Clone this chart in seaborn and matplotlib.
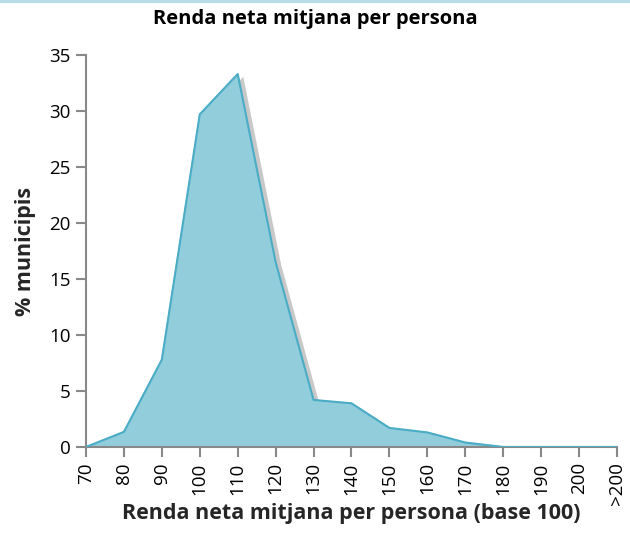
import matplotlib
matplotlib.use("Agg")
import matplotlib.pyplot as plt
import matplotlib.patheffects as pe
import seaborn as sns
import pandas as pd
import numpy as np

categories = ["70", "80", "90", "100", "110", "120", "130", "140", "150", "160", "170", "180", "190", "200", ">200"]
values = [0, 1.35, 7.8, 29.7, 33.3, 16.5, 4.2, 3.9, 1.7, 1.3, 0.4, 0, 0, 0, 0]

sns.set_theme(style="white")
plt.rcParams['font.family'] = ['Open Sans', 'DejaVu Sans']

df = pd.DataFrame({"pos": np.arange(len(categories)), "val": values})

fig = plt.figure(figsize=(6.3, 5.44), dpi=100)
ax = fig.add_axes([86/630, 1 - 447/544, (617-86)/630, (447-55)/544])

ax.fill_between(df["pos"], df["val"], 0, color="#92CDDC", zorder=2,
                path_effects=[pe.SimplePatchShadow(offset=(4, -2), shadow_rgbFace="#777777", alpha=0.4), pe.Normal()])
sns.lineplot(data=df, x="pos", y="val", ax=ax, color="#4BACC6", linewidth=1.5, zorder=3)

ax.set_xlim(0, len(categories) - 1)
ax.set_ylim(0, 35)
ax.set_xticks(df["pos"])
ax.set_xticklabels(categories, rotation=90, fontsize=13.5)
ax.set_yticks([0, 5, 10, 15, 20, 25, 30, 35])
ax.set_yticklabels([str(v) for v in [0, 5, 10, 15, 20, 25, 30, 35]], fontsize=13.5)

for s in ["top", "right"]:
    ax.spines[s].set_visible(False)
for s in ["left", "bottom"]:
    ax.spines[s].set_color("#888888")
    ax.spines[s].set_linewidth(1.5)
ax.tick_params(axis="both", which="major", direction="out", length=7, width=1.5, color="#888888",
               left=True, bottom=True, labelcolor="black", pad=4)

ax.set_xlabel("Renda neta mitjana per persona (base 100)", fontsize=15.5, fontweight="bold")
ax.xaxis.set_label_coords(0.5, -0.143)
ax.set_ylabel("% municipis", fontsize=15.5, fontweight="bold")
ax.yaxis.set_label_coords(-0.095, 0.5)

fig.text(0.5, 1 - 19/544, "Renda neta mitjana per persona", ha="center", va="center", fontsize=14.5, fontweight="bold", color="black")
fig.add_artist(plt.Line2D([0, 1], [1 - 1/544, 1 - 1/544], color="#B7DDE8", linewidth=3, transform=fig.transFigure))

fig.savefig("out.png", dpi=100)
